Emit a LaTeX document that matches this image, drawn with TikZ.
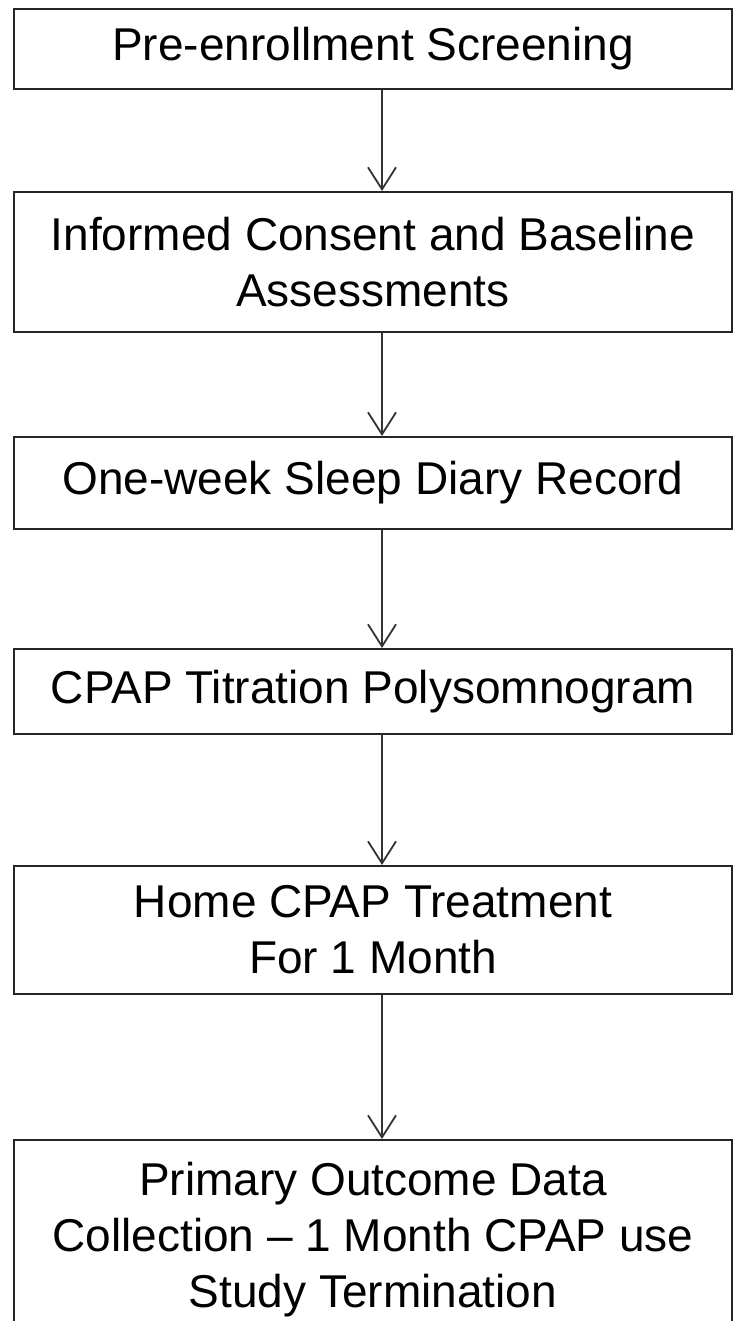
\documentclass[tikz,border=0pt]{standalone}
\usepackage{fontspec}
\setmainfont{Liberation Sans}
\usetikzlibrary{arrows.meta}
\begin{document}
\begin{tikzpicture}[x=1pt,y=-1pt,
  stepbox/.style={draw=black!85, line width=2pt, minimum width=718pt, inner sep=0pt, align=center,
    font=\fontsize{46}{56}\selectfont},
  arr/.style={draw=black!80, line width=1.8pt, -{Straight Barb[length=22pt,width=28pt,line width=1.8pt]}}]
\useasboundingbox (0,0) rectangle (734,1321);
\node[stepbox, minimum height=80pt]  (b1) at (373,49)   {Pre-enrollment Screening};
\node[stepbox, minimum height=140pt] (b2) at (373,262)  {Informed Consent and Baseline\\Assessments};
\node[stepbox, minimum height=92pt]  (b3) at (373,483)  {One-week Sleep Diary Record};
\node[stepbox, minimum height=85pt]  (b4) at (373,691.5){CPAP Titration Polysomnogram};
\node[stepbox, minimum height=128pt] (b5) at (373,930)  {Home CPAP Treatment\\For 1 Month};
\node[stepbox, minimum height=200pt] (b6) at (373,1240) {Primary Outcome Data\\Collection -- 1 Month CPAP use\\Study Termination};
\draw[arr] ([xshift=9pt]b1.south) -- ([xshift=9pt]b2.north);
\draw[arr] ([xshift=9pt]b2.south) -- ([xshift=9pt]b3.north);
\draw[arr] ([xshift=9pt]b3.south) -- ([xshift=9pt]b4.north);
\draw[arr] ([xshift=9pt]b4.south) -- ([xshift=9pt]b5.north);
\draw[arr] ([xshift=9pt]b5.south) -- ([xshift=9pt]b6.north);
\end{tikzpicture}
\end{document}
